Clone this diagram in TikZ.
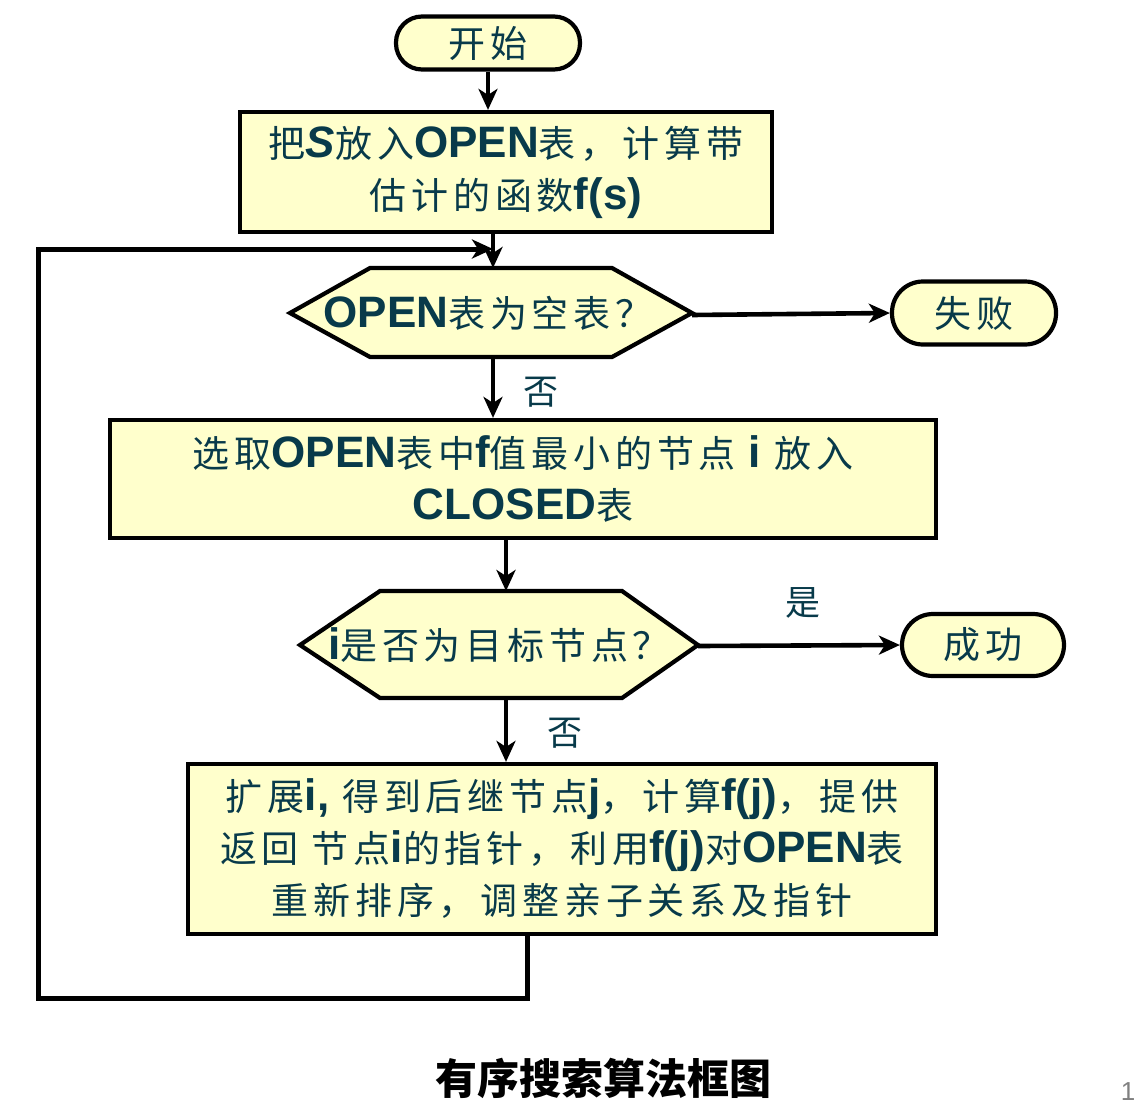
\documentclass[tikz,border=0pt]{standalone}
\usepackage{fontspec}
\setmainfont{Noto Sans CJK SC}[LetterSpace=13]
\newfontfamily\titlefont{Noto Sans CJK SC}
\newfontfamily\ltnfont{Liberation Sans}
\usetikzlibrary{arrows.meta}
\definecolor{txt}{RGB}{8,58,74}
\definecolor{boxfill}{RGB}{255,255,204}
\newcommand\latb[1]{{\ltnfont\bfseries\fontsize{44}{52}\selectfont #1}}
\newcommand\latbi[1]{{\ltnfont\bfseries\itshape\fontsize{44}{52}\selectfont #1}}
\tikzset{
  boxst/.style={draw=black, line width=4.2pt, fill=boxfill, text=txt, align=center,
    font=\fontsize{37}{52}\selectfont, inner sep=0pt},
  termst/.style={boxst, rounded corners=26pt},
  hexst/.style={draw=black, line width=4.2pt, fill=boxfill, line join=miter},
  htext/.style={text=txt, font=\fontsize{37}{52}\selectfont, inner sep=0pt},
  lblst/.style={text=txt, font=\fontsize{35}{40}\selectfont, inner sep=0pt},
  arr/.style={draw=black, line width=4.6pt, -{Stealth[length=21pt,width=19pt,inset=6pt]}},
  loopst/.style={draw=black, line width=5pt, line join=miter, -{Stealth[length=21pt,width=19pt,inset=6pt]}}
}
\begin{document}
\begin{tikzpicture}[x=1pt,y=-1pt]
\useasboundingbox[fill=white] (0,0) rectangle (1135,1114);

% terminals
\node[termst, minimum width=184pt, minimum height=53pt] (start) at (488,43) {开始};
\node[termst, rounded corners=31pt, minimum width=164pt, minimum height=63pt] (fail) at (974,313) {失败};
\node[termst, rounded corners=31pt, minimum width=162pt, minimum height=62pt] (succ) at (983,645) {成功};

% process boxes
\node[boxst, minimum width=532pt, minimum height=120pt] (box1) at (506,172)
  {把\latbi{S}放入\latb{OPEN}表，计算带\\估计的函数\latb{f(s)}};
\node[boxst, minimum width=826pt, minimum height=118pt] (box2) at (523,479)
  {选取\latb{OPEN}表中\latb{f}值最小的节点 \latb{i} 放入\\\latb{CLOSED}表};
\node[boxst, minimum width=748pt, minimum height=170pt] (box3) at (562,849)
  {扩展\latb{i,} 得到后继节点\latb{j}，计算\latb{f(j)}，提供\\返回 节点\latb{i}的指针，利用\latb{f(j)}对\latb{OPEN}表\\重新排序，调整亲子关系及指针};

% decision 1
\draw[hexst] (290,313) -- (370,268) -- (612,268) -- (692,313) -- (612,357) -- (370,357) -- cycle;
\node[htext] (q1) at (488,313) {\latb{OPEN}表为空表？};
\coordinate (h1n) at (493,268);
\coordinate (h1s) at (493,357);
\coordinate (h1e) at (692,315);

% decision 2
\draw[hexst] (300,645) -- (380,591) -- (622,591) -- (698,645) -- (622,698) -- (380,698) -- cycle;
\node[htext] (q2) at (499,645) {\latb{i}是否为目标节点？};
\coordinate (h2n) at (506,591);
\coordinate (h2s) at (506,698);
\coordinate (h2e) at (698,646);

% labels
\node[lblst] (no1) at (541,392) {否};
\node[lblst] (no2) at (565,733) {否};
\node[lblst] (yes) at (803,603) {是};

% connectors
\draw[arr] (start.south) -- (start.south |- box1.north);
\draw[arr] (box1.south -| h1n) -- (h1n);
\draw[arr] (h1e) -- (fail.west);
\draw[arr] (h1s) -- (h1s |- box2.north);
\draw[arr] (box2.south -| h2n) -- (h2n);
\draw[arr] (h2e) -- (succ.west);
\draw[arr] (h2s) -- (h2s |- box3.north);

% loop back
\coordinate (lpR) at (527,998);
\coordinate (lpL) at (38,998);
\coordinate (lpT) at (38,249);
\coordinate (merge) at (493,249);
\draw[loopst] (box3.south -| lpR) -- (lpR) -- (lpL) -- (lpT) -- (merge);

% title and page number
\node[inner sep=0pt, font=\titlefont\fontsize{42}{48}\selectfont\bfseries, text=black] (title) at (603,1078) {有序搜索算法框图};
\node[inner sep=0pt, font=\ltnfont\fontsize{26}{30}\selectfont, text=gray] (pg) at (1128,1092) {1};
\end{tikzpicture}
\end{document}
